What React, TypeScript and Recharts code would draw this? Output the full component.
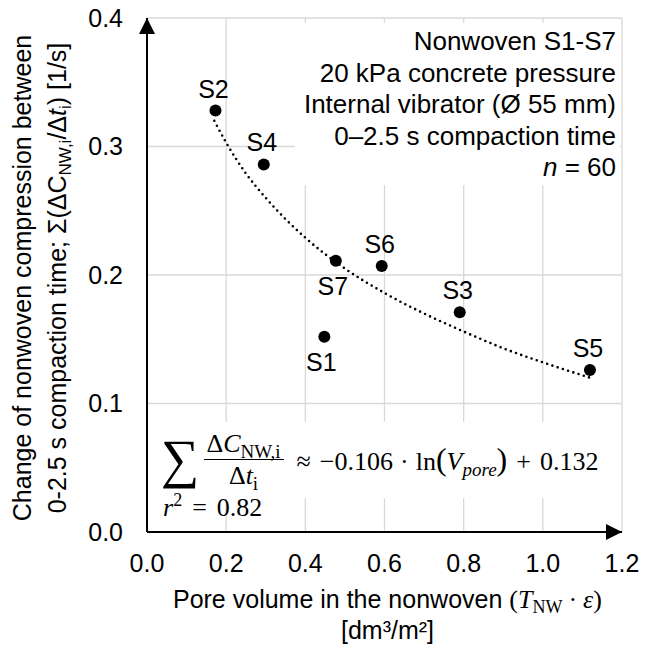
import React from "react";
import { ComposedChart, Scatter, Line, XAxis, YAxis, CartesianGrid } from "recharts";

// nonwoven samples: pore volume [dm3/m2] vs change of compression [1/s]
const samples = ["S1", "S2", "S3", "S4", "S5", "S6", "S7"];
const poreVolume = [0.448, 0.173, 0.79, 0.295, 1.119, 0.593, 0.477];
const compression = [0.152, 0.328, 0.171, 0.286, 0.126, 0.207, 0.211];

// logarithmic trend line
const trendX = [0.17, 0.2, 0.25, 0.3, 0.4, 0.5, 0.6, 0.7, 0.8, 0.9, 1.0, 1.12];
const trendY = [0.32, 0.303, 0.279, 0.26, 0.229, 0.205, 0.186, 0.17, 0.156, 0.143, 0.132, 0.12];

const xTicks = [0, 0.2, 0.4, 0.6, 0.8, 1.0, 1.2];
const yTicks = [0, 0.1, 0.2, 0.3, 0.4];

const infoLines = [
  "Nonwoven S1-S7",
  "20 kPa concrete pressure",
  "Internal vibrator (Ø 55 mm)",
  "0–2.5 s compaction time",
];

const labelsBelow = ["S1", "S7"];

const FONT = '"Liberation Sans", Arial, sans-serif';
const MATH = '"Liberation Serif", "DejaVu Serif", serif';

const points = samples.map((name, i) => ({ name, x: poreVolume[i], y: compression[i] }));
const trend = trendX.map((x, i) => ({ x, y: trendY[i] }));

const SampleDot = (props: any) => {
  const { cx, cy, payload } = props;
  const below = labelsBelow.includes(payload.name);
  return (
    <g>
      <circle cx={cx} cy={cy} r={6} fill="#000" />
      <text
        x={below ? cx - 3 : cx - 2}
        y={below ? cy + 25 : cy - 22}
        textAnchor="middle"
        dominantBaseline="central"
        fontSize={25}
        fontFamily={FONT}
        fill="#000"
      >
        {payload.name}
      </text>
    </g>
  );
};

const Sub = ({ children, size = 19 }: { children: React.ReactNode; size?: number }) => (
  <span style={{ fontSize: size, verticalAlign: "-0.3em", lineHeight: 0 }}>{children}</span>
);

const Op = ({ children, gap = 9 }: { children: React.ReactNode; gap?: number }) => (
  <span style={{ margin: `0 ${gap}px` }}>{children}</span>
);

const fmt = (v: number) => v.toFixed(1);

export default function App() {
  return (
    <div
      style={{
        position: "absolute",
        left: 0,
        top: 0,
        width: 656,
        height: 648,
        background: "#fff",
        fontFamily: FONT,
        color: "#000",
        overflow: "hidden",
      }}
    >
      <svg width={0} height={0} style={{ position: "absolute" }}>
        <defs>
          <marker
            id="axisArrow"
            viewBox="0 0 16 16"
            markerWidth={16}
            markerHeight={16}
            refX={16}
            refY={8}
            orient="auto-start-reverse"
            markerUnits="userSpaceOnUse"
          >
            <path d="M0,0 L16,8 L0,16 z" fill="#000" />
          </marker>
        </defs>
      </svg>

      <ComposedChart width={656} height={648} margin={{ top: 18, right: 34, bottom: 76, left: 87 }}>
        <CartesianGrid stroke="#d9d9d9" strokeWidth={1.3} />
        <XAxis
          type="number"
          dataKey="x"
          domain={[0, 1.2]}
          ticks={xTicks}
          tickFormatter={fmt}
          height={40}
          tickLine={false}
          tickSize={0}
          tickMargin={22}
          axisLine={{ stroke: "#000", strokeWidth: 2, markerEnd: "url(#axisArrow)" }}
          tick={{ fill: "#000", fontSize: 25, fontFamily: FONT }}
          allowDataOverflow
        />
        <YAxis
          type="number"
          dataKey="y"
          domain={[0, 0.4]}
          ticks={yTicks}
          tickFormatter={fmt}
          width={60}
          tickLine={false}
          tickSize={0}
          tickMargin={24}
          axisLine={{ stroke: "#000", strokeWidth: 2, markerStart: "url(#axisArrow)" }}
          tick={{ fill: "#000", fontSize: 25, fontFamily: FONT }}
          allowDataOverflow
        />
        <Line
          data={trend}
          dataKey="y"
          type="monotone"
          stroke="#000"
          strokeWidth={2.6}
          strokeDasharray="0 5.5"
          strokeLinecap="round"
          dot={false}
          activeDot={false}
          isAnimationActive={false}
        />
        <Scatter data={points} dataKey="y" shape={SampleDot} isAnimationActive={false} />
      </ComposedChart>

      {/* info box, top right */}
      <div
        style={{
          position: "absolute",
          left: 295,
          top: 23,
          width: 325,
          height: 162,
          background: "#fff",
        }}
      />
      <div
        style={{
          position: "absolute",
          right: 40,
          top: 26,
          textAlign: "right",
          fontSize: 26,
          lineHeight: "31.6px",
          whiteSpace: "nowrap",
        }}
      >
        {infoLines.map((t) => (
          <div key={t}>{t}</div>
        ))}
        <div>
          <i>n</i> = 60
        </div>
      </div>

      {/* regression equation */}
      <div
        style={{
          position: "absolute",
          left: 152,
          top: 422,
          width: 466,
          height: 76,
          background: "#fff",
        }}
      />
      <div
        style={{
          position: "absolute",
          left: 152,
          top: 427,
          height: 64,
          fontFamily: MATH,
          fontSize: 26,
          display: "flex",
          alignItems: "center",
          whiteSpace: "nowrap",
        }}
      >
        <span style={{ fontSize: 54, lineHeight: "50px", marginLeft: 9, marginRight: 4 }}>∑</span>
        <span style={{ display: "inline-flex", flexDirection: "column", alignItems: "center" }}>
          <span style={{ padding: "0 3px", lineHeight: "31px" }}>
            Δ<i>C</i>
            <Sub>NW,i</Sub>
          </span>
          <span style={{ borderTop: "1.6px solid #000", width: "100%", textAlign: "center", lineHeight: "31px" }}>
            Δ<i>t</i>
            <Sub>i</Sub>
          </span>
        </span>
        <span style={{ marginLeft: 4 }}>
          <Op>≈</Op>−0.106<Op gap={7}>·</Op>ln<span style={{ fontSize: 32 }}>(</span>
          <i>V</i>
          <Sub>
            <i>pore</i>
          </Sub>
          <span style={{ fontSize: 32 }}>)</span>
          <Op>+</Op>0.132
        </span>
      </div>
      <div
        style={{
          position: "absolute",
          left: 160,
          top: 494,
          fontFamily: MATH,
          fontSize: 26,
          lineHeight: "28px",
          padding: "0 3px",
          whiteSpace: "nowrap",
        }}
      >
        <i>r</i>
        <span style={{ fontSize: 18, verticalAlign: "0.55em", lineHeight: 0 }}>2</span>
        <Op gap={10}>=</Op>0.82
      </div>

      {/* x axis title */}
      <div
        style={{
          position: "absolute",
          left: 110,
          top: 584,
          width: 555,
          textAlign: "center",
          fontSize: 25,
          lineHeight: "31px",
          whiteSpace: "nowrap",
        }}
      >
        <div>
          Pore volume in the nonwoven{" "}
          <span style={{ fontFamily: MATH, fontSize: 26 }}>
            (<i>T</i>
            <Sub size={18}>NW</Sub>
            <Op gap={6}>·</Op>
            <i>ε</i>)
          </span>
        </div>
        <div>[dm³/m²]</div>
      </div>

      {/* y axis title, two rotated lines */}
      <div
        style={{
          position: "absolute",
          left: 40,
          top: 278,
          transform: "translate(-50%, -50%) rotate(-90deg)",
          textAlign: "center",
          fontSize: 25,
          lineHeight: "35px",
          whiteSpace: "nowrap",
        }}
      >
        <div>Change of nonwoven compression between</div>
        <div>
          0-2.5 s compaction time; Σ(ΔC
          <Sub size={17}>NW,i</Sub>/Δ<i>t</i>
          <Sub size={17}>i</Sub>) [1/s]
        </div>
      </div>
    </div>
  );
}
